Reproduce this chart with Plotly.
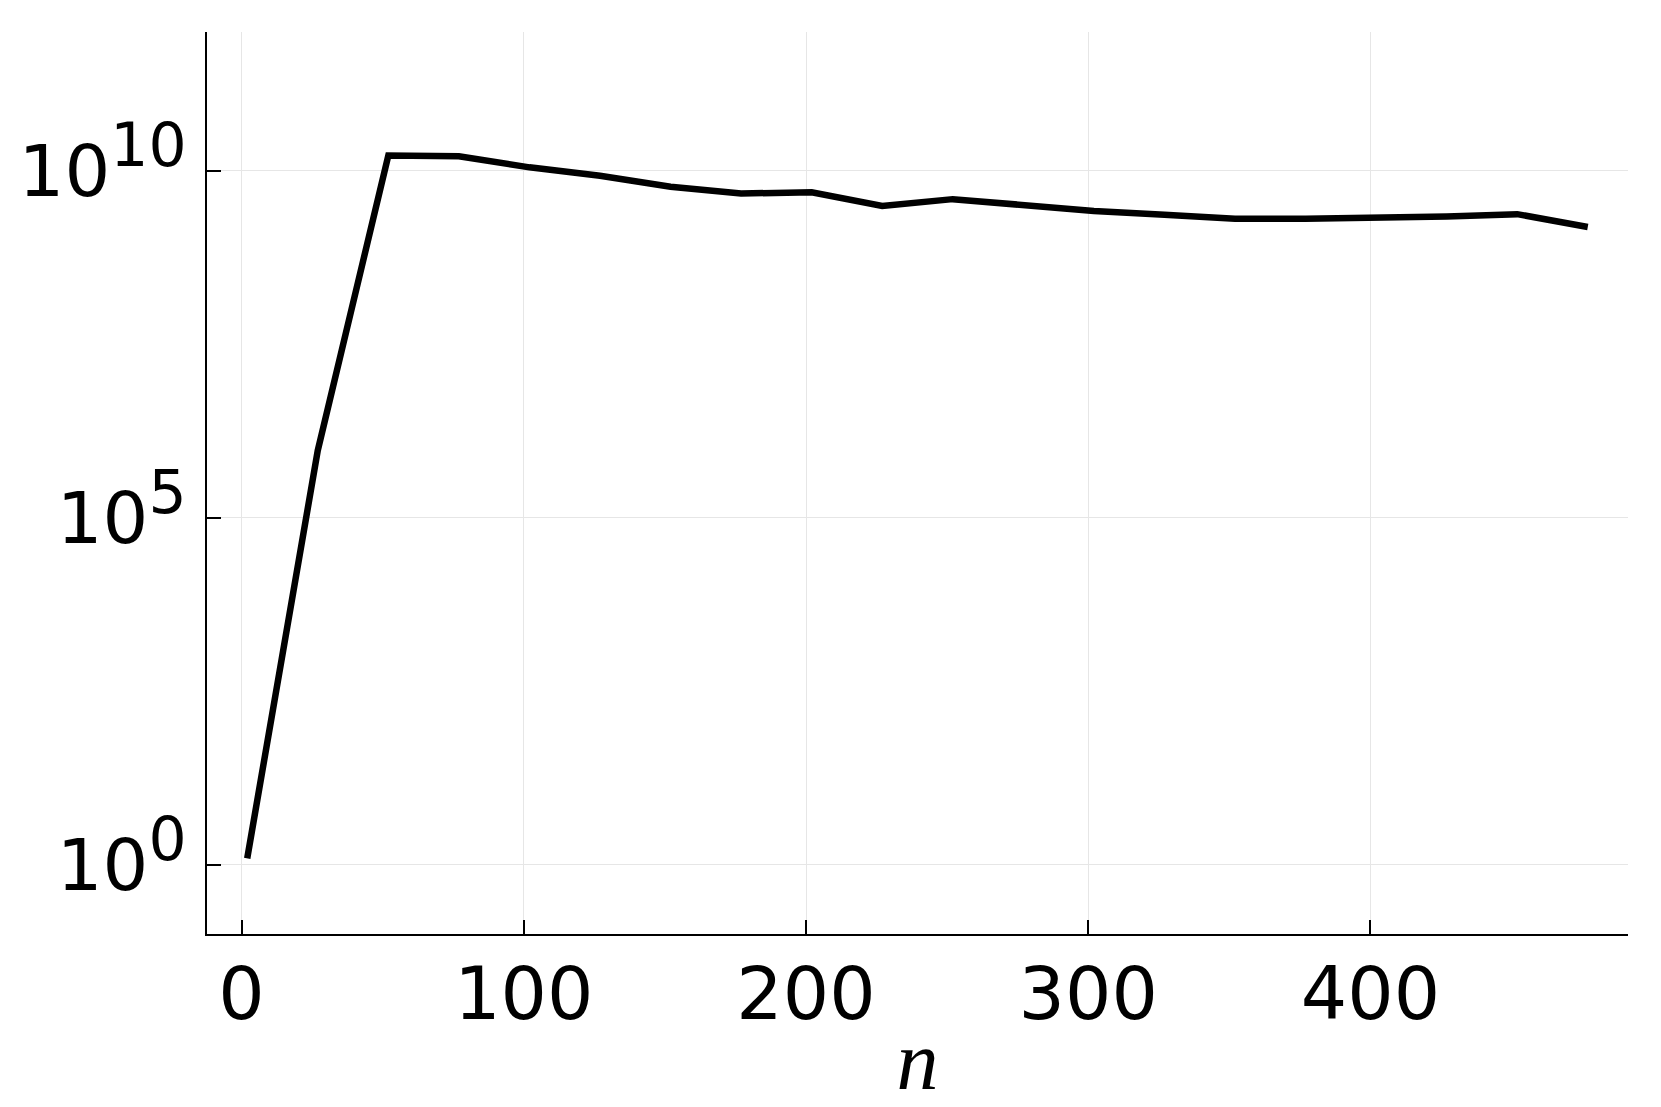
import plotly.graph_objects as go

n_values = [2, 27, 52, 77, 102, 127, 152, 177, 202, 227, 252, 277, 302, 327, 352, 377, 402, 427, 452, 477]
y_values = [1.23, 9.3e5, 1.66e10, 1.62e10, 1.12e10, 8.5e9, 5.9e9, 4.7e9, 4.9e9, 3.1e9,
            3.9e9, 3.13e9, 2.63e9, 2.32e9, 2.04e9, 2.04e9, 2.09e9, 2.19e9, 2.37e9, 1.55e9]

x_tickvals = [0, 100, 200, 300, 400]
x_ticktext = ["0", "100", "200", "300", "400"]
y_tickvals = [1, 1e5, 1e10]
y_exponents = ["0", "5", "10"]
y_ticktext = ['10<sup><span style="font-size:60px">%s</span></sup>' % e for e in y_exponents]

fig = go.Figure()
fig.add_trace(go.Scatter(
    x=n_values, y=y_values, mode="lines",
    line=dict(color="black", width=6.5),
    showlegend=False,
))

fig.update_layout(
    width=1661, height=1107,
    margin=dict(l=207, r=33, t=32, b=173),
    paper_bgcolor="white", plot_bgcolor="white",
    font=dict(family="DejaVu Sans", color="black", size=72),
)
fig.update_xaxes(
    range=[-12.25, 491.25],
    tickvals=x_tickvals, ticktext=x_ticktext,
    showgrid=True, gridcolor="#e6e6e6", gridwidth=1,
    showline=True, linecolor="black", linewidth=2,
    ticks="inside", ticklen=14, tickwidth=2, tickcolor="black",
    zeroline=False, mirror=False,
    ticklabelstandoff=-5,
    title=dict(text="<i>n</i>", font=dict(family="Liberation Serif", size=84), standoff=0),
    tickfont=dict(size=73),
)
fig.update_yaxes(
    type="log", range=[-1, 12],
    tickvals=y_tickvals, ticktext=y_ticktext,
    showgrid=True, gridcolor="#e6e6e6", gridwidth=1,
    showline=True, linecolor="black", linewidth=2,
    ticks="inside", ticklen=14, tickwidth=2, tickcolor="black",
    zeroline=False, mirror=False,
    ticklabelstandoff=4,
    tickfont=dict(size=72),
)

fig.write_html("out.html", config={"displayModeBar": False},
               post_script="document.body.style.margin='0';document.body.style.overflow='hidden';")
